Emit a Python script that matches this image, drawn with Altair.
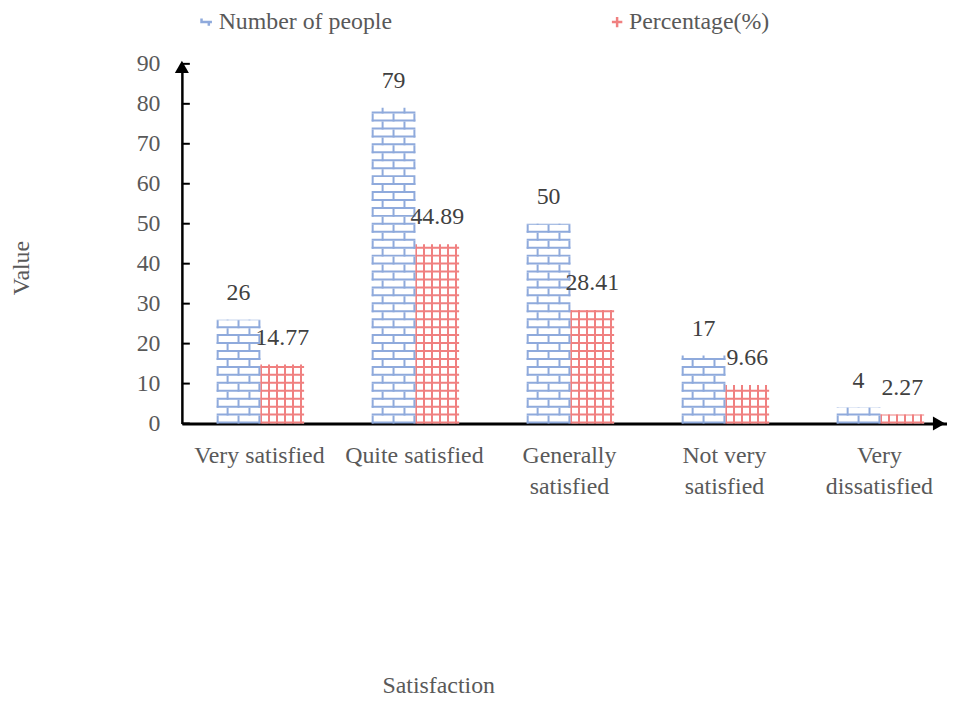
import altair as alt
import pandas as pd

# ---- data ----
categories = ["Very satisfied", "Quite satisfied", "Generally satisfied",
              "Not very satisfied", "Very dissatisfied"]
series_names = ["Number of people", "Percentage(%)"]
people = [26, 79, 50, 17, 4]
percent = [14.77, 44.89, 28.41, 9.66, 2.27]
y_ticks = [0, 10, 20, 30, 40, 50, 60, 70, 80, 90]

rows = []
for c, p, q in zip(categories, people, percent):
    rows.append({"category": c, "series": series_names[0], "value": p, "zero": 0})
    rows.append({"category": c, "series": series_names[1], "value": q, "zero": 0})
df = pd.DataFrame(rows)
ticks_df = pd.DataFrame({"tick": y_ticks})
legend_df = pd.DataFrame({"series": series_names})

# ---- styles ----
FONT = "Liberation Serif"
BLUE = "#8FAADC"
RED = "#F08080"
LABEL_C = "#595959"
VAL_C = "#404040"
BW = 44          # bar width in px
OFF_B, OFF_R = -21, 23
FS = 24

xscale = alt.Scale(domain=categories, range=[0, 780], paddingInner=0, paddingOuter=0)
yscale = alt.Scale(domain=[0, 90], nice=False)

label_expr = ("datum.label == 'Generally satisfied' ? ['Generally', 'satisfied'] : "
              "datum.label == 'Not very satisfied' ? ['Not very', 'satisfied'] : "
              "datum.label == 'Very dissatisfied' ? ['Very', 'dissatisfied'] : datum.label")

xaxis = alt.Axis(ticks=False, grid=False, domainColor="black", domainWidth=3,
                 labelPadding=20, labelFontSize=FS, labelColor=LABEL_C, labelAngle=0,
                 labelLineHeight=31, labelExpr=label_expr, labelOverlap=False,
                 labelBaseline="top", labelFont=FONT, labelLimit=400,
                 titleX=258, titleY=264, titleBaseline="middle", titleAlign="center",
                 titleFontSize=FS, titleFontWeight="normal", titleColor=LABEL_C,
                 titleFont=FONT)
yaxis = alt.Axis(values=y_ticks, ticks=False, grid=False, domainColor="black",
                 domainWidth=2.5, labelPadding=22, labelFontSize=FS, labelColor=LABEL_C,
                 labelFont=FONT, titleX=-161, titleY=205, titleAngle=270,
                 titleBaseline="middle", titleAlign="center", titleFontSize=FS,
                 titleFontWeight="normal", titleColor=LABEL_C, titleFont=FONT)


def X():
    return alt.X("category:N", scale=xscale, axis=xaxis, sort=categories, title="Satisfaction")


def Y(field):
    return alt.Y(f"{field}:Q", scale=yscale, axis=yaxis, title="Value")


def stripes(lines, width, color):
    stops = [alt.GradientStop(offset=0, color="white")]
    for a in lines:
        s, e = a / width, (a + 2) / width
        stops += [alt.GradientStop(offset=s, color="white"),
                  alt.GradientStop(offset=s, color=color),
                  alt.GradientStop(offset=e, color=color),
                  alt.GradientStop(offset=e, color="white")]
    stops.append(alt.GradientStop(offset=1, color="white"))
    return alt.LinearGradient(gradient="linear", stops=stops, x1=0, x2=1, y1=0, y2=0)


legend = alt.Legend(
    orient="none", legendX=13, legendY=-54, direction="horizontal", title=None,
    labelFontSize=FS, labelColor=LABEL_C, labelFont=FONT, labelLimit=400,
    symbolSize=110, symbolStrokeWidth=2.5, labelOffset=0, columnPadding=214)
BRICK_SYM = "M-1,-0.7L-1,0L1,0M0.4,0L0.4,0.7"
CROSS_SYM = "M-1,0L1,0M0,-1L0,1"

base = alt.Chart(df)
is_blue = alt.datum.series == series_names[0]
is_red = alt.datum.series == series_names[1]

layers = []

# red bar with vertical grid lines (gradient)
layers.append(base.transform_filter(is_red).mark_bar(
    width=BW, xOffset=OFF_R, fill=stripes([0, 8, 16, 24, 32, 40], BW, RED)
).encode(x=X(), y=Y("value")))

# horizontal pattern lines (dashed thick rules)
for flt, off, col in [(is_blue, OFF_B, BLUE), (is_red, OFF_R, RED)]:
    layers.append(base.transform_filter(flt).mark_rule(
        xOffset=off, strokeWidth=BW, strokeDash=[2, 6], strokeCap="butt", color=col
    ).encode(x=X(), y=Y("zero"), y2="value:Q"))

# brick joints for blue bars
for dx, dash_off in [(-21, 0), (0, 0), (21, 0), (-11, 8), (11, 8)]:
    layers.append(base.transform_filter(is_blue).mark_rule(
        xOffset=OFF_B + dx, strokeWidth=2, strokeDash=[8, 8], strokeDashOffset=dash_off,
        strokeCap="butt", color=BLUE
    ).encode(x=X(), y=Y("zero"), y2="value:Q"))

# value labels
layers.append(base.transform_filter(is_blue).mark_text(
    xOffset=OFF_B, dy=-27, baseline="middle", fontSize=FS, color=VAL_C, font=FONT
).encode(x=X(), y=Y("value"), text=alt.Text("value:Q", format="d")))
layers.append(base.transform_filter(is_red).mark_text(
    xOffset=OFF_R, dy=-27, baseline="middle", fontSize=FS, color=VAL_C, font=FONT
).encode(x=X(), y=Y("value"), text=alt.Text("value:Q", format=".2f")))

# inward y ticks
tick_base = alt.Chart(ticks_df)
layers.append(tick_base.mark_rule(color="black", strokeWidth=2).encode(
    y=Y("tick"), x=alt.value(0), x2=alt.value(8)))

# axis arrows
layers.append(tick_base.transform_filter(alt.datum.tick == 90).mark_point(
    shape="triangle-up", size=200, filled=True, color="black", opacity=1, yOffset=3
).encode(y=Y("tick"), x=alt.value(0)))
layers.append(tick_base.transform_filter(alt.datum.tick == 0).mark_point(
    shape="triangle-right", size=200, filled=True, color="black", opacity=1
).encode(y=Y("tick"), x=alt.value(762)))

# legend carrier (drawn outside the clipped view)
layers.append(alt.Chart(legend_df).mark_point(
    filled=False, strokeWidth=2.5, size=110, opacity=1
).encode(
    x=alt.value(-600), y=alt.value(-600),
    stroke=alt.Stroke("series:N", scale=alt.Scale(domain=series_names, range=[BLUE, RED]),
                      legend=legend),
    shape=alt.Shape("series:N", scale=alt.Scale(domain=series_names,
                                                range=[BRICK_SYM, CROSS_SYM]),
                    legend=legend),
))

chart = alt.layer(*layers).properties(
    width=770, height=362,
    autosize=alt.AutoSizeParams(type="none"),
    padding={"left": 175, "top": 54, "right": 0, "bottom": 274},
).configure(font=FONT).configure_view(stroke=None).configure_axis(
    titleFont=FONT, labelFont=FONT
).configure_legend(labelFont=FONT)

chart.save("out.html", embed_options={"renderer": "svg", "actions": False})
